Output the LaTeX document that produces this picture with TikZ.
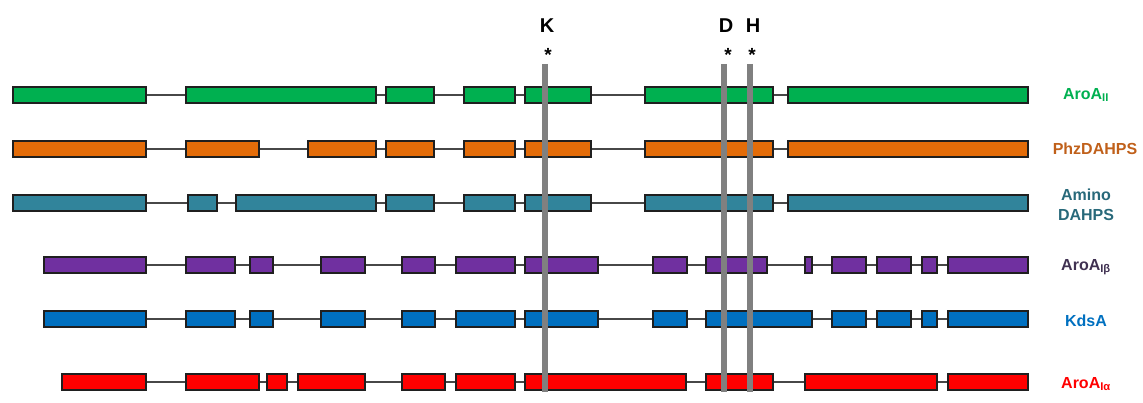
\documentclass[tikz,border=0pt]{standalone}
\usepackage{fontspec}
\setmainfont{Liberation Sans}
\definecolor{cgreen}{HTML}{00B050}
\definecolor{corange}{HTML}{E36C09}
\definecolor{cteal}{HTML}{31849B}
\definecolor{cpurple}{HTML}{7030A0}
\definecolor{cblue}{HTML}{0070C0}
\definecolor{cred}{HTML}{FF0000}
\definecolor{tbrown}{HTML}{C0601A}
\definecolor{tteal}{HTML}{28697A}
\definecolor{tpurple}{HTML}{403151}
\definecolor{cbar}{HTML}{808080}
\newcommand\generow[4]{%
  \foreach \a/\b [count=\i] in {#4} {
    \node[exon, fill=#3, minimum width={(\b-\a-1.6)*1pt}] (#1-\i) at ({(\a+\b)/2},#2) {};
    \ifnum\i>1 \pgfmathtruncatemacro\j{\i-1}\draw[intron] (#1-\j.east) -- (#1-\i.west);\fi
  }}
\begin{document}
\begin{tikzpicture}[x=1pt,y=-1pt,
  exon/.style={rectangle, draw=black!88, line width=1.6pt, inner sep=0pt, minimum height=16.5pt},
  intron/.style={draw=black!72, line width=1.4pt},
  bar/.style={draw=cbar, line width=6pt},
  site/.style={font=\bfseries\fontsize{20}{24}\selectfont, text=black},
  star/.style={font=\bfseries\fontsize{19}{20}\selectfont, text=black},
  lab/.style={font=\bfseries\fontsize{16}{20}\selectfont, align=center}]
\useasboundingbox (0,0) rectangle (1143,403);
\generow{r1}{95}{cgreen}{12/147,185/377,385/435,463/516,524/592,644/774,787/1029}
\generow{r2}{149}{corange}{12/147,185/260,307/377,385/435,463/516,524/592,644/774,787/1029}
\generow{r3}{203}{cteal}{12/147,187/218,235/377,385/435,463/516,524/592,644/774,787/1029}
\generow{r4}{265}{cpurple}{43/147,185/236,249/274,320/366,401/436,455/516,524/599,652/688,705/768,804/813,831/867,876/912,921/938,947/1029}
\generow{r5}{319}{cblue}{43/147,185/236,249/274,320/366,401/436,455/516,524/599,652/688,705/813,831/867,876/912,921/938,947/1029}
\generow{r6}{382}{cred}{61/147,185/260,266/288,297/366,401/446,455/516,524/687,705/774,804/938,947/1029}
% catalytic residue bars
\coordinate (Ktop) at (545,64); \coordinate (Kbot) at (545,392);
\coordinate (Dtop) at (724,64); \coordinate (Dbot) at (724,392);
\coordinate (Htop) at (750,64); \coordinate (Hbot) at (750,392);
\draw[bar] (Ktop) -- (Kbot);
\draw[bar] (Dtop) -- (Dbot);
\draw[bar] (Htop) -- (Hbot);
\node[site] (K) at (547,26) {K};
\node[site] (D) at (726,26) {D};
\node[site] (H) at (753,26) {H};
\node[star] (Ks) at (548,55) {*};
\node[star] (Ds) at (728,55) {*};
\node[star] (Hs) at (752,55) {*};
% labels
\node[lab, text=cgreen] (l1) at (1086,95) {AroA\textsubscript{II}};
\node[lab, text=tbrown] (l2) at (1095,149) {PhzDAHPS};
\node[lab, text=tteal] (l3) at (1086,205) {Amino\\DAHPS};
\node[lab, text=tpurple] (l4) at (1086,267) {AroA\textsubscript{Iβ}};
\node[lab, text=cblue] (l5) at (1086,321) {KdsA};
\node[lab, text=cred] (l6) at (1086,384) {AroA\textsubscript{Iα}};
\end{tikzpicture}
\end{document}
